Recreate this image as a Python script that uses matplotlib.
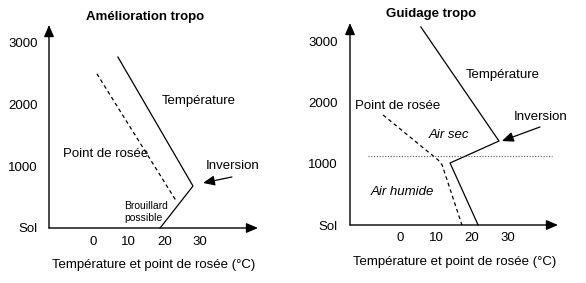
import matplotlib
matplotlib.use("Agg")
import matplotlib.pyplot as plt

plt.rcParams['font.family'] = ['Liberation Sans', 'DejaVu Sans']

# ---- data (schematic values) ----
xticks = [0, 10, 20, 30]
xtick_labels = ['0', '10', '20', '30']
yticks = [0, 1000, 2000, 3000]
ytick_labels = ['Sol', '1000', '2000', '3000']

# Left panel: "Amélioration tropo"
left_temp_T = [7.0, 28.0, 18.8]
left_temp_h = [2770, 680, 0]
left_dew_T = [1.1, 23.5]
left_dew_h = [2500, 420]

# Right panel: "Guidage tropo"
right_temp_T = [5.8, 27.5, 13.9, 21.7]
right_temp_h = [3230, 1370, 1011, 0]
right_dew_T = [-4.7, 10.6, 11.7, 17.2]
right_dew_h = [1794, 1060, 979, 0]
right_inversion_level = 1125

W, H = 586, 283
fig = plt.figure(figsize=(W / 100, H / 100), dpi=100)


def px_axes(x0, x1, ytop, ybot):
    return fig.add_axes([x0 / W, 1 - ybot / H, (x1 - x0) / W, (ybot - ytop) / H])


def setup(ax, xlim, ylim, xpad, ypad):
    ax.set_xlim(*xlim)
    ax.set_ylim(*ylim)
    for s in ax.spines.values():
        s.set_visible(False)
    ax.patch.set_alpha(0)
    ax.set_xticks(xticks)
    ax.set_xticklabels(xtick_labels)
    ax.set_yticks(yticks)
    ax.set_yticklabels(ytick_labels)
    ax.tick_params(axis='x', length=0, pad=xpad, labelsize=9.5)
    ax.tick_params(axis='y', length=0, pad=ypad, labelsize=9.5)
    arrow = dict(arrowstyle='-|>,head_length=0.7,head_width=0.3', color='black',
                 lw=1.0, shrinkA=0, shrinkB=0)
    ax.annotate('', xy=(1, 0), xytext=(0, 0), xycoords='axes fraction',
                textcoords='axes fraction', arrowprops=arrow, annotation_clip=False)
    ax.annotate('', xy=(0, 1), xytext=(0, 0), xycoords='axes fraction',
                textcoords='axes fraction', arrowprops=arrow, annotation_clip=False)


small_arrow = dict(arrowstyle='-|>,head_length=0.7,head_width=0.3', color='black',
                   lw=0.9, shrinkA=0, shrinkB=0)

# ---------------- Left panel ----------------
axL = px_axes(49, 258, 25, 228)
setup(axL, (-12.3, 46.2), (0, 3290), xpad=6, ypad=8)
axL.plot(left_temp_T, left_temp_h, color='black', lw=0.9, clip_on=False)
axL.plot(left_dew_T, left_dew_h, color='black', lw=0.9, ls=(0, (3, 2.5)), clip_on=False)
axL.text(29.7, 2058, 'Température', ha='center', va='center', fontsize=9.5)
axL.text(3.6, 1200, 'Point de rosée', ha='center', va='center', fontsize=9.5)
axL.text(39.2, 1005, 'Inversion', ha='center', va='center', fontsize=9.5)
axL.text(8.7, 260, 'Brouillard\npossible', ha='left', va='center', fontsize=7.5,
         linespacing=1.35)
axL.annotate('', xy=(30.8, 730), xytext=(38.9, 827), arrowprops=small_arrow)
fig.text(145 / W, 1 - 17 / H, 'Amélioration tropo', ha='center', va='center',
         fontsize=9.5, fontweight='bold')
fig.text(154 / W, 1 - 265 / H, 'Température et point de rosée (°C)', ha='center',
         va='center', fontsize=9.5)

# ---------------- Right panel ----------------
axR = px_axes(350, 558, 23, 225)
setup(axR, (-13.9, 43.9), (0, 3295), xpad=5, ypad=9)
axR.plot(right_temp_T, right_temp_h, color='black', lw=0.9, clip_on=False)
axR.plot(right_dew_T, right_dew_h, color='black', lw=0.9, ls=(0, (3, 2.5)), clip_on=False)
axR.plot([-8.9, 42.2], [right_inversion_level] * 2, color='#555555', lw=0.8,
         ls=(0, (1, 1.5)))
axR.text(28.6, 2447, 'Température', ha='center', va='center', fontsize=9.5)
axR.text(-0.8, 1941, 'Point de rosée', ha='center', va='center', fontsize=9.5)
axR.text(39.2, 1762, 'Inversion', ha='center', va='center', fontsize=9.5)
axR.text(13.6, 1468, 'Air sec', ha='center', va='center', fontsize=9.5, style='italic')
axR.text(0.6, 538, 'Air humide', ha='center', va='center', fontsize=9.5, style='italic')
axR.annotate('', xy=(28.3, 1370), xytext=(38.9, 1599), arrowprops=small_arrow)
fig.text(431 / W, 1 - 14 / H, 'Guidage tropo', ha='center', va='center',
         fontsize=9.5, fontweight='bold')
fig.text(455 / W, 1 - 262 / H, 'Température et point de rosée (°C)', ha='center',
         va='center', fontsize=9.5)

fig.savefig('out.png', dpi=100)
